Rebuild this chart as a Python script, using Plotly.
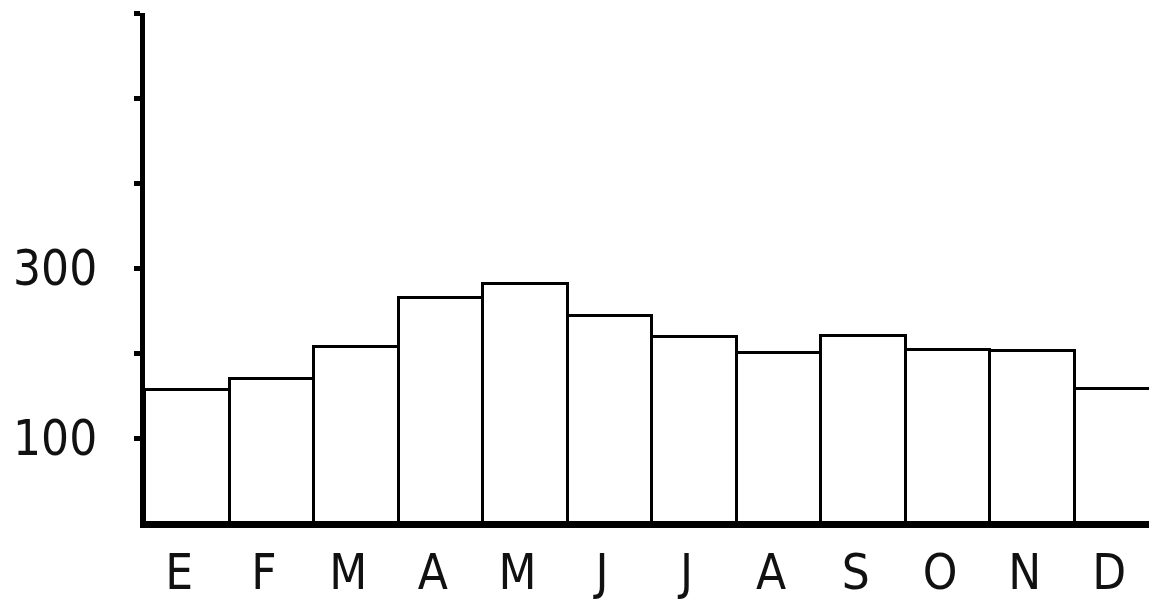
import plotly.graph_objects as go

months = ["E", "F", "M", "A", "M", "J", "J", "A", "S", "O", "N", "D"]
values = [156, 170, 207, 265, 281, 244, 219, 200, 220, 204, 202, 158]
y_tickvals = [100, 200, 300, 400, 500, 600]
y_ticktext = ["100", "", "300", "", "", ""]

x_idx = list(range(len(months)))

fig = go.Figure(go.Bar(
    x=x_idx, y=values,
    marker=dict(color="white", line=dict(color="black", width=3)),
    width=1.0,
))

font_family = "DejaVu Sans Condensed, Liberation Sans Narrow, Liberation Sans, Arial, sans-serif"

fig.update_layout(
    width=1157, height=601,
    margin=dict(l=137, r=8, t=5, b=86, autoexpand=False),
    paper_bgcolor="white", plot_bgcolor="white",
    bargap=0, showlegend=False,
    font=dict(family=font_family, color="#111111"),
)
fig.update_xaxes(
    range=[-0.5, 11.47],
    tickmode="array", tickvals=x_idx, ticktext=months,
    tickfont=dict(size=49, family=font_family),
    showline=True, linecolor="black", linewidth=5,
    ticks="", showgrid=False, zeroline=False,
    ticklabelstandoff=2, ticklabelshift=-8, automargin=False,
)
fig.update_yaxes(
    range=[0, 600],
    tickmode="array", tickvals=y_tickvals, ticktext=y_ticktext,
    tickfont=dict(size=49, family=font_family),
    showline=True, linecolor="black", linewidth=5,
    ticks="outside", ticklen=6, tickwidth=5, tickcolor="black",
    showgrid=False, zeroline=False,
    ticklabelstandoff=27, automargin=False,
)

fig.write_html("out.html")
